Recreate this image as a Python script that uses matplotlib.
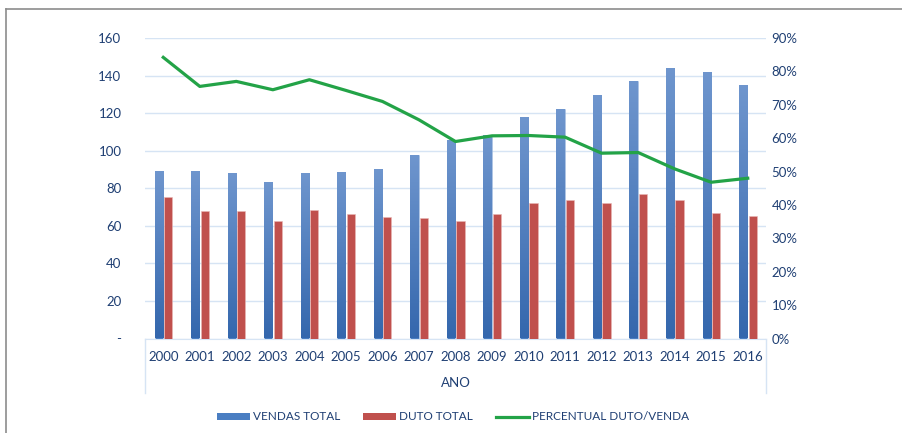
import numpy as np
import matplotlib
matplotlib.use("Agg")
import matplotlib.pyplot as plt
from matplotlib.patches import Patch
from matplotlib.lines import Line2D
from matplotlib.ticker import FuncFormatter, MultipleLocator
from matplotlib.colors import LinearSegmentedColormap

years = ["2000", "2001", "2002", "2003", "2004", "2005", "2006", "2007", "2008",
         "2009", "2010", "2011", "2012", "2013", "2014", "2015", "2016"]
vendas_total = [89.4, 89.2, 88.2, 83.5, 88.2, 88.5, 90.3, 97.6, 105.8,
                108.4, 117.7, 122.1, 129.4, 137.2, 144.2, 141.7, 135.1]
duto_total = [75.5, 67.7, 68.1, 62.4, 68.4, 66.1, 64.5, 64.0, 62.4,
              66.1, 72.0, 73.6, 72.2, 76.8, 73.6, 66.8, 65.2]
percentual = [0.842, 0.755, 0.770, 0.745, 0.775, 0.743, 0.710, 0.655, 0.590,
              0.607, 0.608, 0.603, 0.555, 0.557, 0.508, 0.468, 0.480]

plt.rcParams['font.family'] = ['Lato', 'DejaVu Sans']
TXT = '#1F3F73'
GRID = '#D6E4F4'
BLUE = '#4A7EC2'
RED = '#C0504D'
GREEN = '#23A347'

W, H = 903, 433
fig = plt.figure(figsize=(W / 100, H / 100), dpi=100)
ax = fig.add_axes([145 / W, (H - 338.5) / H, 621 / W, 300.5 / H])
ax2 = ax.twinx()

x = np.arange(len(years))
bw = 0.225
bars_b = ax.bar(x - 0.125, vendas_total, bw, color=BLUE, edgecolor='#B8CCE8', linewidth=0.4, zorder=3)
bars_r = ax.bar(x + 0.135, duto_total, bw, color=RED, edgecolor='#E8B8B6', linewidth=0.4, zorder=3)

# gradient on blue bars (lighter top, darker bottom)
cmap = LinearSegmentedColormap.from_list('g', ['#3467AD', '#6F96CE'])
grad = np.linspace(0, 1, 256).reshape(-1, 1)
for b in bars_b:
    x0, y0 = b.get_x(), b.get_y()
    im = ax.imshow(grad, cmap=cmap, origin='lower', aspect='auto',
                   extent=[x0, x0 + b.get_width(), y0, y0 + b.get_height()], zorder=3.5)
    im.set_clip_path(b)

ax.set_xlim(-0.5, len(years) - 0.5)
ax.set_ylim(0, 160)
ax.yaxis.set_major_locator(MultipleLocator(20))
ax.yaxis.set_major_formatter(FuncFormatter(lambda v, p: '-' if v == 0 else f'{v:.0f}'))
ax.grid(axis='y', color=GRID, linewidth=1.0, zorder=0)
ax.set_axisbelow(True)
ax.set_xticks(x)
ax.set_xticklabels(years)
ax.tick_params(axis='x', length=0, pad=9, labelsize=9.5, labelcolor=TXT)
ax.tick_params(axis='y', length=0, pad=17, labelsize=9.5, labelcolor=TXT)
for s in ['top', 'right', 'left']:
    ax.spines[s].set_visible(False)
ax.spines['bottom'].set_color(GRID)
ax.set_xlabel('ANO', color=TXT, fontsize=9.5, labelpad=10)

ax2.plot(x, percentual, color=GREEN, linewidth=2.3, zorder=5)
ax2.set_ylim(0, 0.9)
ax2.yaxis.set_major_locator(MultipleLocator(0.1))
ax2.yaxis.set_major_formatter(FuncFormatter(lambda v, p: f'{v * 100:.0f}%'))
ax2.tick_params(axis='y', length=0, pad=4, labelsize=9.5, labelcolor=TXT)
for s in ['top', 'right', 'left', 'bottom']:
    ax2.spines[s].set_visible(False)

# category box side lines
box_depth = 54 / 300.5
for xx in (0, 1):
    ax.add_line(Line2D([xx, xx], [0, -box_depth], transform=ax.transAxes,
                       color=GRID, linewidth=1.0, clip_on=False))

# figure border (top and left)
fig.add_artist(Line2D([6 / W, 1], [1 - 9 / H, 1 - 9 / H], transform=fig.transFigure,
                      color='#8C8C8C', linewidth=1.2))
fig.add_artist(Line2D([6 / W, 6 / W], [0, 1 - 9 / H], transform=fig.transFigure,
                      color='#8C8C8C', linewidth=1.2))

handles = [Patch(facecolor=BLUE, edgecolor='none'),
           Patch(facecolor=RED, edgecolor='none'),
           Line2D([0], [0], color=GREEN, linewidth=2.3)]
labels = ['VENDAS TOTAL', 'DUTO TOTAL', 'PERCENTUAL DUTO/VENDA']
leg = fig.legend(handles, labels, loc='center', bbox_to_anchor=(453 / W, 1 - 417 / H),
                 ncol=3, frameon=False, fontsize=8.5, handlelength=2.8, handleheight=0.55,
                 handletextpad=0.3, columnspacing=1.9)
for t in leg.get_texts():
    t.set_color(TXT)

fig.savefig('out.png', dpi=100)
